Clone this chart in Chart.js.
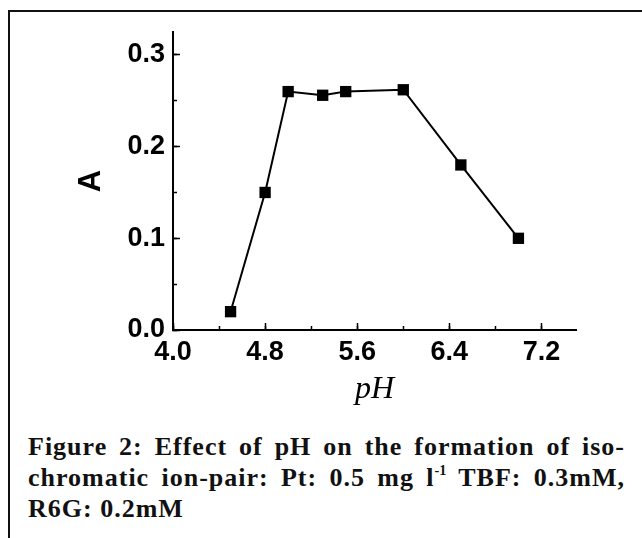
<!DOCTYPE html>
<html>
<head>
<meta charset="utf-8">
<script src="https://cdn.jsdelivr.net/npm/chart.js@4/dist/chart.umd.min.js"></script>
<style>
  html, body { margin: 0; padding: 0; background: #fff; }
  body { width: 642px; height: 538px; position: relative; overflow: hidden; }
  #frame {
    position: absolute; left: 8px; top: 10px; width: 700px; height: 600px;
    border-left: 2px solid #111; border-top: 2px solid #111;
  }
  #wrap { position: absolute; left: 0; top: 0; width: 642px; height: 420px; }
  #caption {
    position: absolute; left: 28px; top: 431px; width: 597px;
    font-family: "Liberation Serif", "Times New Roman", serif;
    font-weight: bold; font-size: 26px; line-height: 31px; letter-spacing: 1px; color: #111;
  }
  #caption .jl { text-align: justify; text-align-last: justify; }
  #caption sup { font-size: 0.55em; line-height: 0; vertical-align: 0.75em; letter-spacing: 0; }
</style>
</head>
<body>
<div id="frame"></div>
<div id="wrap"><canvas id="chart" width="642" height="420"></canvas></div>
<div id="caption">
  <div class="jl">Figure 2: Effect of pH on the formation of iso-</div>
  <div class="jl">chromatic ion-pair: Pt: 0.5 mg l<sup>-1</sup> TBF: 0.3mM,</div>
  <div>R6G: 0.2mM</div>
</div>
<script>
// data
const pH = [4.5, 4.8, 5.0, 5.3, 5.5, 6.0, 6.5, 7.0];
const absorbance = [0.02, 0.15, 0.26, 0.256, 0.26, 0.262, 0.18, 0.10];
const xRange = [4.0, 7.5];
const yRange = [0, 0.325];
const xStep = 0.8, xMinorStep = 0.4;
const yStep = 0.1, yMinorStep = 0.05;

const points = pH.map(function (v, i) { return { x: v, y: absorbance[i] }; });

const tickFont = { family: '"Liberation Sans", Arial, sans-serif', weight: 'bold', size: 27 };

new Chart(document.getElementById('chart'), {
  type: 'line',
  data: {
    datasets: [{
      data: points,
      borderColor: '#000',
      borderWidth: 2,
      backgroundColor: '#000',
      pointStyle: 'rect',
      pointRadius: 8,
      pointBorderWidth: 0,
      tension: 0,
      xAxisID: 'x',
      yAxisID: 'y'
    }]
  },
  options: {
    responsive: false,
    animation: false,
    layout: { padding: { left: 0, top: 32, right: 66, bottom: 0 } },
    plugins: { legend: { display: false }, tooltip: { enabled: false } },
    scales: {
      x: {
        type: 'linear', position: 'bottom', weight: 1,
        min: xRange[0], max: xRange[1],
        border: { display: true, color: '#000', width: 2 },
        grid: { drawOnChartArea: false, drawTicks: true, tickLength: -7, tickColor: '#000', tickWidth: 1.5 },
        ticks: {
          stepSize: xStep, includeBounds: false, padding: 13, color: '#000', font: tickFont,
          maxRotation: 0, autoSkip: false,
          callback: function (v) { return v.toFixed(1); }
        },
        title: {
          display: true, text: 'pH', color: '#000',
          font: { family: '"Liberation Serif", "Times New Roman", serif', style: 'italic', size: 32 },
          padding: { top: 0, bottom: 11 }
        },
        afterFit: function (s) { s.height = 90; }
      },
      xMinor: {
        type: 'linear', position: 'bottom', weight: 0,
        min: xRange[0], max: xRange[1],
        border: { display: false },
        grid: { drawOnChartArea: false, drawTicks: true, tickLength: -4, tickColor: '#000', tickWidth: 1.5 },
        ticks: { stepSize: xMinorStep, includeBounds: false, display: false, autoSkip: false },
        afterFit: function (s) { s.height = 0; }
      },
      y: {
        type: 'linear', position: 'left', weight: 1,
        min: yRange[0], max: yRange[1],
        border: { display: true, color: '#000', width: 2 },
        grid: { drawOnChartArea: false, drawTicks: true, tickLength: -7, tickColor: '#000', tickWidth: 1.5 },
        ticks: {
          stepSize: yStep, includeBounds: false, padding: 15, color: '#000', font: tickFont,
          callback: function (v) { return v.toFixed(1); }
        },
        title: {
          display: true, text: 'A', color: '#000',
          font: { family: '"Liberation Sans", Arial, sans-serif', weight: 'bold', size: 31 },
          padding: { top: 73, bottom: 0 }
        },
        afterFit: function (s) { s.width = 173; }
      },
      yMinor: {
        type: 'linear', position: 'left', weight: 0,
        min: yRange[0], max: yRange[1],
        border: { display: false },
        grid: { drawOnChartArea: false, drawTicks: true, tickLength: -4, tickColor: '#000', tickWidth: 1.5 },
        ticks: { stepSize: yMinorStep, includeBounds: false, display: false, autoSkip: false },
        afterFit: function (s) { s.width = 0; }
      }
    }
  }
});
</script>
</body>
</html>
